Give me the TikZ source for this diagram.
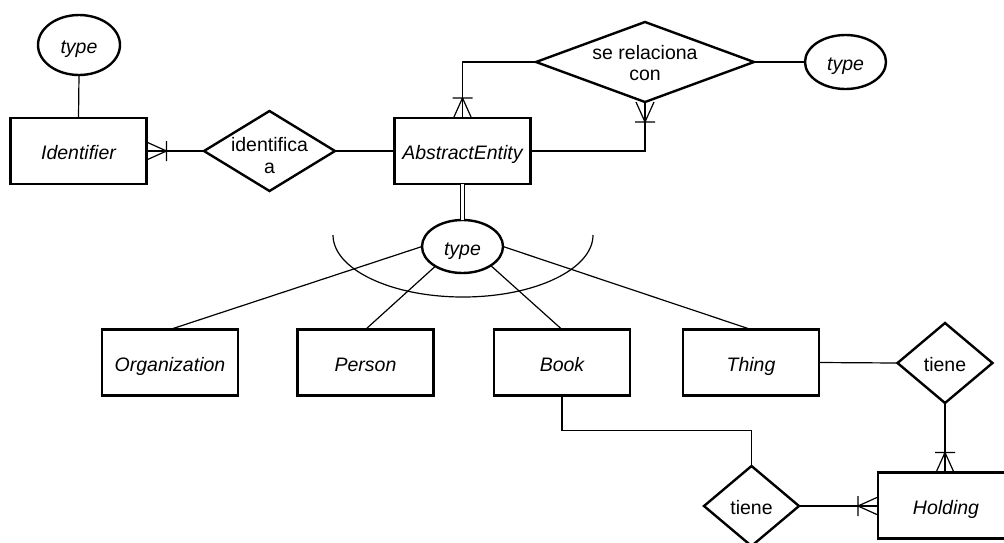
\documentclass[tikz,border=0pt]{standalone}
\usepackage{fontspec}
\setmainfont{Liberation Sans}
\usetikzlibrary{shapes.geometric}

% crow's foot with a bar: "one or many" end of an ER relationship line
\pgfdeclarearrow{
  name = ERmany,
  setup code = {
    \pgfarrowssettipend{0pt}
    \pgfarrowssetlineend{0pt}
    \pgfarrowssetbackend{-21pt}
    \pgfarrowshullpoint{0pt}{10pt}
    \pgfarrowshullpoint{0pt}{-10pt}
    \pgfarrowshullpoint{-21pt}{10pt}
    \pgfarrowshullpoint{-21pt}{-10pt}
  },
  drawing code = {
    \pgfsetdash{}{0pt}
    \pgfpathmoveto{\pgfqpoint{0pt}{9pt}}
    \pgfpathlineto{\pgfqpoint{-20pt}{0pt}}
    \pgfpathlineto{\pgfqpoint{0pt}{-9pt}}
    \pgfpathmoveto{\pgfqpoint{-20pt}{10pt}}
    \pgfpathlineto{\pgfqpoint{-20pt}{-10pt}}
    \pgfusepathqstroke
  }
}

\begin{document}
\begin{tikzpicture}[x=1pt, y=-1pt,
  every node/.style={inner sep=0pt, outer sep=0pt,
    font=\fontsize{19.5}{21.5}\selectfont},
  entity/.style={draw, rectangle, line width=2.6pt,
    minimum width=136pt, minimum height=66pt,
    font=\fontsize{19.5}{21.5}\selectfont\itshape,
    text height=18pt, text depth=1pt},
  attrib/.style={draw, ellipse, line width=2.4pt,
    font=\fontsize{19.5}{21.5}\selectfont\itshape,
    text height=18pt, text depth=1pt},
  relation/.style={draw, diamond, line width=2.4pt, minimum height=80pt},
  reltext/.style={align=center},
  onetext/.style={text height=18pt, text depth=1pt},
  link/.style={line width=1.2pt},
  many/.style={-ERmany, line width=1.2pt}
]
\useasboundingbox (0,0) rectangle (1004,542);
\fill[white] (0,0) rectangle (1004,542);
\clip (0,0) rectangle (1004,542);

% entities
\node[entity] (idf)   at (78.5,151)   {Identifier};
\node[entity] (ae)    at (462.5,151)  {AbstractEntity};
\node[entity] (org)   at (170,362.5)  {Organization};
\node[entity] (per)   at (365.5,362.5){Person};
\node[entity] (book)  at (562,362.5)  {Book};
\node[entity] (thing) at (751,362.5)  {Thing};
\node[entity] (hold)  at (946,505.5)  {Holding};

% attributes
\node[attrib, minimum width=82pt, minimum height=60pt] (tp1) at (79,45)       {type};
\node[attrib, minimum width=81pt, minimum height=54pt] (tp2) at (845.5,62)    {type};
\node[attrib, minimum width=81pt, minimum height=53pt] (ty)  at (462.5,246.5) {type};

% relationships
\node[relation, minimum width=131pt,
  label={[reltext, yshift=-4.5pt]center:{identifica\\a}}] (ida) at (269.5,151) {};
\node[relation, minimum width=218pt,
  label={[reltext, yshift=-1pt]center:{se relaciona\\con}}] (sr) at (645,62) {};
\node[relation, minimum width=95pt,
  label={[onetext]center:tiene}] (t1) at (945,363) {};
\node[relation, minimum width=95pt,
  label={[onetext]center:tiene}] (t2) at (751.5,506) {};

% connectors
\draw[link] (tp1.south) -- (idf.north);
\draw[many] (ida.west) -- (idf.east);
\draw[link] (ida.east) -- (ae.west);
\draw[many] (sr.west) -| (ae.north);
\draw[many] (ae.east) -| (sr.south);
\draw[link] (sr.east) -- (tp2.west);
\draw[line width=1pt, double, double distance=3.4pt] (ae.south) -- (ty.north);

% specialisation of AbstractEntity by its type
\draw[link] (ty.west) -- (org.north);
\draw[link] (ty.216) -- (per.north);
\draw[link] (ty.326) -- (book.north);
\draw[link] (ty.east) -- (thing.north);
\draw[link] (333,235) arc[start angle=180, end angle=360,
  x radius=130pt, y radius=62pt];

\draw[link] (thing.east) -- (t1.west);
\draw[many] (t1.south) -- (t1.south |- hold.north);
\draw[link] (book.south) -- ++(0,35) -| (t2.north);
\draw[many] (t2.east) -- (t2.east -| hold.west);
\end{tikzpicture}
\end{document}
